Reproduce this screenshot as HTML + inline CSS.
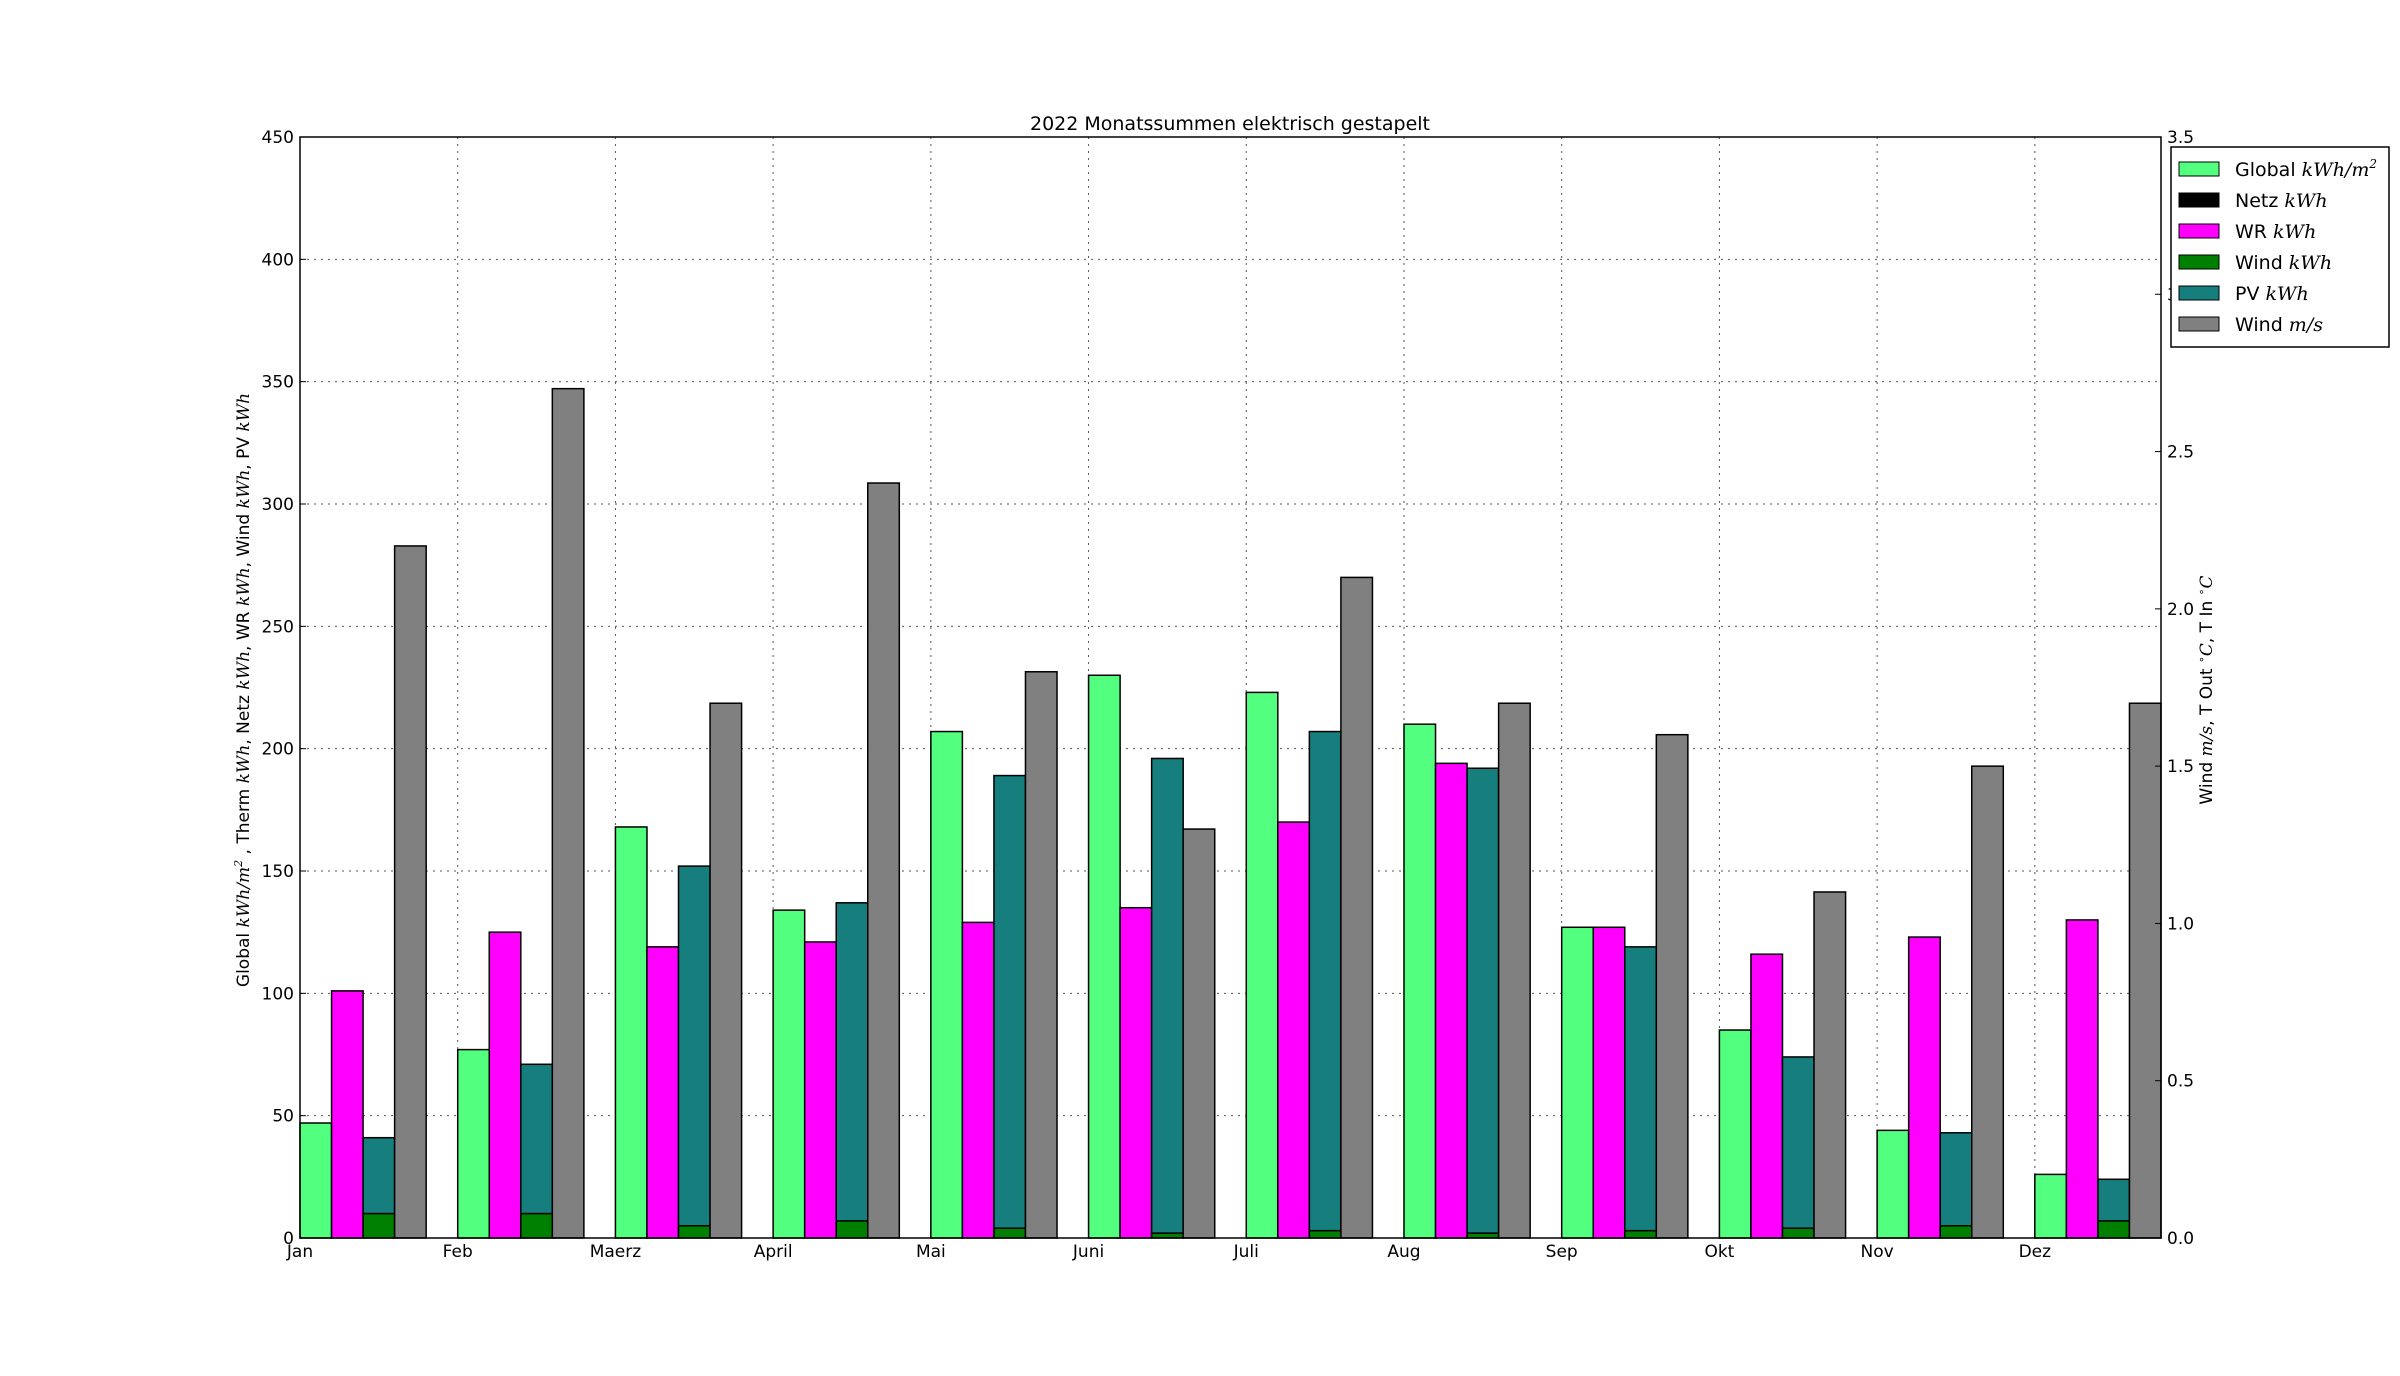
<!DOCTYPE html>
<html><head><meta charset="utf-8"><style>
html,body{margin:0;padding:0;background:#fff;}
svg{display:block;font-family:"DejaVu Sans","Liberation Sans",sans-serif;}
.m{font-family:"DejaVu Serif","Liberation Serif",serif;font-style:italic;}
</style></head><body>
<svg id="chart" width="2400" height="1376" viewBox="0 0 2400 1376" xmlns="http://www.w3.org/2000/svg">
<rect width="2400" height="1376" fill="#fff"/>
<g id="grid"></g>
<g id="bars"></g>
<rect x="300" y="137" width="1861" height="1101" fill="none" stroke="#000" stroke-width="1.5"/>
<g id="axes" font-size="17" fill="#000"></g>
<text x="1230" y="130" font-size="19" text-anchor="middle">2022 Monatssummen elektrisch gestapelt</text>
<text transform="translate(249,690) rotate(-90)" font-size="17" text-anchor="middle">Global <tspan class="m">kWh/m</tspan><tspan class="m" font-size="11" dy="-7">2</tspan><tspan dy="7"> , Therm </tspan><tspan class="m">kWh</tspan>, Netz <tspan class="m">kWh</tspan>, WR <tspan class="m">kWh</tspan>, Wind <tspan class="m">kWh</tspan>, PV <tspan class="m">kWh</tspan></text>
<text transform="translate(2212,690) rotate(-90)" font-size="17" text-anchor="middle">Wind <tspan class="m">m/s</tspan>, T Out <tspan font-size="11" dy="-7">∘</tspan><tspan class="m" dy="7">C</tspan>, T In <tspan font-size="11" dy="-7">∘</tspan><tspan class="m" dy="7">C</tspan></text>
<g id="legend">
<rect x="2171" y="147" width="218" height="200" fill="#fff" stroke="#000" stroke-width="1.5"/>
</g>
</svg>
<script>
const months = ["Jan","Feb","Maerz","April","Mai","Juni","Juli","Aug","Sep","Okt","Nov","Dez"];
const globalKwh = [47,77,168,134,207,230,223,210,127,85,44,26];
const netzKwh = [0,0,0,0,0,0,0,0,0,0,0,0];
const wrKwh = [101,125,119,121,129,135,170,194,127,116,123,130];
const windKwh = [10,10,5,7,4,2,3,2,3,4,5,7];
const pvKwh = [31,61,147,130,185,194,204,190,116,70,38,17];
const windMs = [2.2,2.7,1.7,2.4,1.8,1.3,2.1,1.7,1.6,1.1,1.5,1.7];
const leftTicks = [0,50,100,150,200,250,300,350,400,450];
const rightTicks = ["0.0","0.5","1.0","1.5","2.0","2.5","3.0","3.5"];

const NS="http://www.w3.org/2000/svg";
const X0=300,X1=2161,Y0=1238,Y1=137,XMAX=11.8,LMAX=450,RMAX=3.5,BW=0.2;
const xs=v=>X0+(v/XMAX)*(X1-X0);
const yl=v=>Y0-(v/LMAX)*(Y0-Y1);
const yr=v=>Y0-(v/RMAX)*(Y0-Y1);
function mk(tag,attrs,parent){const e=document.createElementNS(NS,tag);for(const k in attrs)e.setAttribute(k,attrs[k]);parent.appendChild(e);return e;}
const grid=document.getElementById('grid'),bars=document.getElementById('bars'),axes=document.getElementById('axes'),legend=document.getElementById('legend');

leftTicks.forEach(t=>{
  const y=yl(t);
  if(t>0&&t<LMAX){const g=mk('line',{x1:X0,x2:X1,y1:y,y2:y,stroke:'#555','stroke-width':1,'stroke-dasharray':'2,5'},grid);
  
  }
  mk('line',{x1:X0,x2:X0+6,y1:y,y2:y,stroke:'#000'},axes);
  const tx=mk('text',{x:X0-6,y:y+6,'text-anchor':'end'},axes);tx.textContent=t;
  
  
});
rightTicks.forEach(t=>{
  const y=yr(parseFloat(t));
  mk('line',{x1:X1-6,x2:X1,y1:y,y2:y,stroke:'#000'},axes);
  const tx=mk('text',{x:X1+6,y:y+6},axes);tx.textContent=t;
  
  
});
months.forEach((m,i)=>{
  const x=xs(i);
  if(i>0){const g=mk('line',{x1:x,x2:x,y1:Y1,y2:Y0,stroke:'#555','stroke-width':1,'stroke-dasharray':'2,5'},grid);
  
  }
  mk('line',{x1:x,x2:x,y1:Y0-6,y2:Y0,stroke:'#000'},axes);
  const tx=mk('text',{x:x,y:Y0+19,'text-anchor':'middle'},axes);tx.textContent=m;
  
  
});
function bar(x0,ytop,ybot,fill,name){
  const r=mk('rect',{x:xs(x0),y:ytop,width:xs(x0+BW)-xs(x0),height:Math.max(0,ybot-ytop),fill:fill,stroke:'#000','stroke-width':1.5},bars);
  
  
}
months.forEach((m,i)=>{
  bar(i,yl(globalKwh[i]),Y0,'#53ff7e','bar-global-'+m);
  if(netzKwh[i]>0) bar(i+BW,yl(netzKwh[i]),Y0,'#000','bar-netz-'+m);
  bar(i+BW,yl(wrKwh[i]),Y0,'#ff00ff','bar-wr-'+m);
  bar(i+2*BW,yl(windKwh[i]),Y0,'#008000','bar-wind-kwh-'+m);
  bar(i+2*BW,yl(windKwh[i]+pvKwh[i]),yl(windKwh[i]),'#177e7e','bar-pv-'+m);
  bar(i+3*BW,yr(windMs[i]),Y0,'#808080','bar-wind-ms-'+m);
});
const leg=[["#53ff7e","Global ","kWh/m","2"],["#000","Netz ","kWh"],["#ff00ff","WR ","kWh"],["#008000","Wind ","kWh"],["#177e7e","PV ","kWh"],["#808080","Wind ","m/s"]];
leg.forEach((l,i)=>{
  const y=162+i*31;
  const r=mk('rect',{x:2179,y:y,width:40,height:14,fill:l[0],stroke:'#000','stroke-width':1},legend);
  
  
  const t=mk('text',{x:2235,y:y+14,'font-size':19},legend);
  
  
  const a=document.createElementNS(NS,'tspan');a.textContent=l[1];t.appendChild(a);
  const b=document.createElementNS(NS,'tspan');b.setAttribute('class','m');b.textContent=l[2];t.appendChild(b);
  if(l[3]){const c=document.createElementNS(NS,'tspan');c.setAttribute('class','m');c.setAttribute('font-size','12');c.setAttribute('dy','-8');c.textContent=l[3];t.appendChild(c);}
});
</script>
</body></html>
